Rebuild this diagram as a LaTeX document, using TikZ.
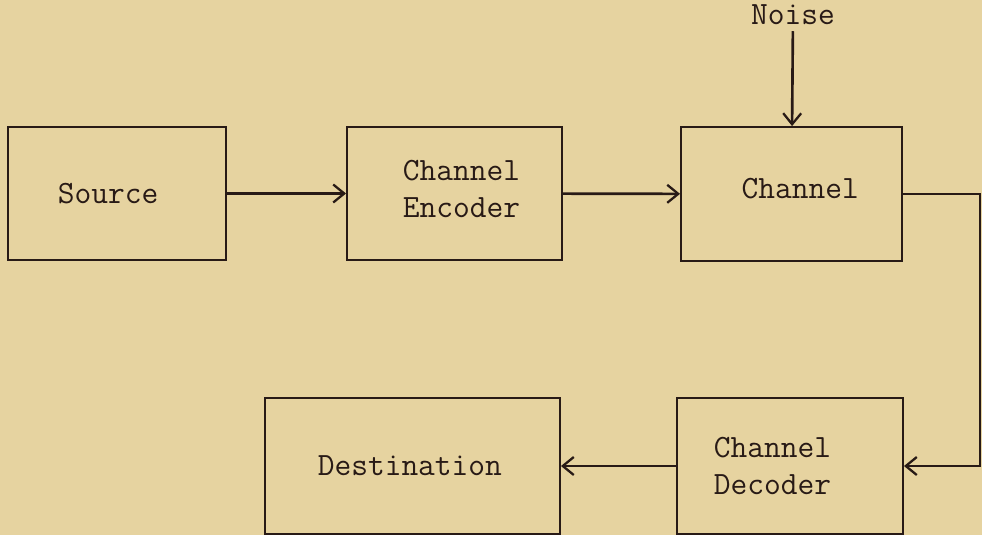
\documentclass[tikz,border=0pt]{standalone}
\usepackage{tikz}
\usetikzlibrary{arrows.meta, positioning}
\definecolor{paper}{RGB}{230,211,160}
\definecolor{ink}{RGB}{40,26,22}

\begin{document}
\begin{tikzpicture}[
    punkt/.style = {rectangle, draw=ink, line width=1.1pt, inner sep=0pt, text=ink},
    pil/.style = {ink, line width=1.5pt, -{Straight Barb[length=2.2mm, width=3.6mm, line width=1.3pt]}},
    font=\fontsize{18.5}{21}\selectfont\ttfamily
    ]

  \fill[paper] (0,0) rectangle (19.64,-10.7);
  \useasboundingbox (0,0) rectangle (19.64,-10.7);

  \node[punkt, minimum width=4.36cm, minimum height=2.66cm] (source) at (2.34,-3.87) {Source\kern10pt} ;
  \node[punkt, minimum width=4.30cm, minimum height=2.66cm, align=center] (encoder) at (9.09,-3.87) {\hspace{8pt}Channel\\\hspace{8pt}Encoder\\[-16pt]} ;
  \node[punkt, minimum width=4.42cm, minimum height=2.68cm] (channel) at (15.83,-3.88) {\raisebox{6pt}{\hspace{10pt}Channel}} ;
  \node[text=ink] (noise) at (15.86,-0.30) {Noise} ;

  \node[punkt, minimum width=4.52cm, minimum height=2.72cm, align=center] (decoder) at (15.80,-9.32) {Channel\kern20pt\\Decoder\kern20pt} ;
  \node[punkt, minimum width=5.90cm, minimum height=2.72cm] (dest) at (8.25,-9.32) {Destination\kern3pt} ;

  \coordinate (bend) at (19.60,-6.5) ;

  \draw[pil]
  (source) edge (encoder)
  (encoder) edge (channel)
  (noise) edge (channel)
  (decoder) edge (dest);
  \draw[pil] (channel.east) -| (bend) |- (decoder.east);
\end{tikzpicture}
\end{document}
